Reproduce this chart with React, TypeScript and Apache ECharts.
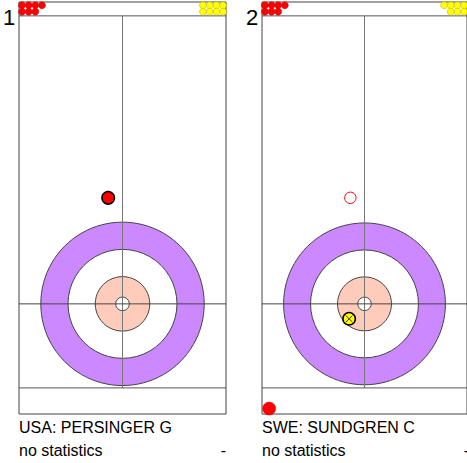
import React, { useEffect, useRef } from "react";
import * as echarts from "echarts";

// ---- data ----
const shotLabels = ["1", "2"];
const teamLabels = ["USA: PERSINGER G", "SWE: SUNDGREN C"];
const statLabels = ["no statistics", "no statistics"];
const statValues = ["-", "-"];
const redRemaining = [7, 7];
const yellowRemaining = [8, 7];

// house ring radii in feet (12ft, 8ft, 4ft, button)
const ringRadii = [6, 4, 2, 0.5];
const ringColors = ["#CC88FF", "#FFFFFF", "#FFCCBB", "#FFFFFF"];

// sheet coordinates in feet (x from centre line, y from tee line)
const X_MIN = -7.6;
const X_MAX = 7.6;
const Y_MIN = -8.1;
const Y_MAX = 22.2;
const hogLineY = 21.18;
const backLineY = -6.18;
const teeLineY = 0;

// stones in play per shot: [x, y, team, kind]
const stonesShot1: [number, number, string, string][] = [[-1.05, 7.8, "red", "stone"]];
const stonesShot2: [number, number, string, string][] = [
  [-1.05, 7.8, "red", "ghost"],
  [-1.14, -1.1, "yellow", "thrown"],
  [-7.07, -7.7, "red", "out"],
];
const stonesByShot = [stonesShot1, stonesShot2];

const STONE_R = 0.46;

export default function App() {
  const ref = useRef<HTMLDivElement>(null);
  useEffect(() => {
    const chart = echarts.init(ref.current!, null, { renderer: "svg" });
    const panelLeft = [19, 262];
    const panelWidth = 207;
    const font = '"Liberation Sans", Arial, sans-serif';

    const sheetLines: [number, number, number, number, string][] = [
      [0, backLineY, 0, hogLineY, "#777"],
      [X_MIN, teeLineY, X_MAX, teeLineY, "#444"],
      [X_MIN, backLineY, X_MAX, backLineY, "#555"],
      [X_MIN, hogLineY, X_MAX, hogLineY, "#555"],
      [X_MIN, Y_MAX, X_MAX, Y_MAX, "#444"],
      [X_MIN, Y_MIN, X_MAX, Y_MIN, "#444"],
      [X_MIN, Y_MIN, X_MIN, Y_MAX, "#444"],
      [X_MAX, Y_MIN, X_MAX, Y_MAX, "#444"],
    ];

    const dotRowsY = [21.96, 21.49];
    const dotSpacing = 0.49;
    const dotOffset = 0.22;
    const dotsFor = (n: number, side: "red" | "yellow") => {
      const out: number[][] = [];
      for (let i = 0; i < n; i++) {
        const row = Math.floor(i / 4);
        const col = i % 4;
        const x = side === "red" ? X_MIN + dotOffset + col * dotSpacing : X_MAX - dotOffset - col * dotSpacing;
        out.push([x, dotRowsY[row]]);
      }
      return out;
    };

    const grids: any[] = [];
    const xAxes: any[] = [];
    const yAxes: any[] = [];
    const series: any[] = [];
    const graphics: any[] = [];

    shotLabels.forEach((label, p) => {
      grids.push({ left: panelLeft[p], top: 2, width: panelWidth, height: 412 });
      xAxes.push({ type: "value", gridIndex: p, min: X_MIN, max: X_MAX, show: false });
      yAxes.push({ type: "value", gridIndex: p, min: Y_MIN, max: Y_MAX, show: false });

      series.push({
        type: "custom",
        xAxisIndex: p,
        yAxisIndex: p,
        clip: false,
        z: 1,
        data: ringRadii.map((r) => [0, 0, r]),
        renderItem: (params: any, api: any) => {
          const c = api.coord([0, 0]);
          const r = api.size([ringRadii[params.dataIndex], 0])[0];
          return {
            type: "circle",
            shape: { cx: c[0], cy: c[1], r },
            style: { fill: ringColors[params.dataIndex], stroke: "#444", lineWidth: 1 },
          };
        },
      });

      series.push({
        type: "custom",
        xAxisIndex: p,
        yAxisIndex: p,
        clip: false,
        z: 2,
        data: sheetLines.map((l) => [l[0], l[1], l[2], l[3]]),
        renderItem: (params: any, api: any) => {
          const l = sheetLines[params.dataIndex];
          const a = api.coord([l[0], l[1]]);
          const b = api.coord([l[2], l[3]]);
          return {
            type: "line",
            shape: { x1: a[0], y1: a[1], x2: b[0], y2: b[1] },
            style: { stroke: l[4], lineWidth: 1 },
          };
        },
      });

      series.push({
        type: "scatter",
        xAxisIndex: p,
        yAxisIndex: p,
        z: 3,
        symbol: "circle",
        symbolSize: 7,
        silent: true,
        itemStyle: { color: "#FF0000", borderColor: "#CC0000", borderWidth: 0.5, opacity: 1 },
        data: dotsFor(redRemaining[p], "red"),
      });
      series.push({
        type: "scatter",
        xAxisIndex: p,
        yAxisIndex: p,
        z: 3,
        symbol: "circle",
        symbolSize: 7,
        silent: true,
        itemStyle: { color: "#FFFF00", borderColor: "#B8A800", borderWidth: 0.5, opacity: 1 },
        data: dotsFor(yellowRemaining[p], "yellow"),
      });

      const stones = stonesByShot[p];
      series.push({
        type: "custom",
        xAxisIndex: p,
        yAxisIndex: p,
        clip: false,
        z: 4,
        data: stones.map((s) => [s[0], s[1]]),
        renderItem: (params: any, api: any) => {
          const s = stones[params.dataIndex];
          const c = api.coord([s[0], s[1]]);
          const r = api.size([STONE_R, 0])[0];
          const fill = s[2] === "red" ? "#FF0000" : "#FFFF00";
          if (s[3] === "ghost") {
            return {
              type: "circle",
              shape: { cx: c[0], cy: c[1], r: r - 0.5 },
              style: { fill: "none", stroke: "#FF0000", lineWidth: 1 },
            };
          }
          if (s[3] === "out") {
            return {
              type: "circle",
              shape: { cx: c[0], cy: c[1], r: r + 0.3 },
              style: { fill, stroke: "#E00000", lineWidth: 0.5 },
            };
          }
          const circle = {
            type: "circle",
            shape: { cx: c[0], cy: c[1], r },
            style: { fill, stroke: "#000", lineWidth: 1.5 },
          };
          if (s[3] === "thrown") {
            const d = r * 0.55;
            return {
              type: "group",
              children: [
                circle,
                { type: "line", shape: { x1: c[0] - d, y1: c[1] - d, x2: c[0] + d, y2: c[1] + d }, style: { stroke: "#333", lineWidth: 1 } },
                { type: "line", shape: { x1: c[0] - d, y1: c[1] + d, x2: c[0] + d, y2: c[1] - d }, style: { stroke: "#333", lineWidth: 1 } },
              ],
            };
          }
          return circle;
        },
      });

      graphics.push({
        type: "text",
        x: panelLeft[p] - 16,
        y: 17,
        style: { text: label, fontSize: 22, fontFamily: font, fill: "#000", align: "left", verticalAlign: "middle" },
      });
      graphics.push({
        type: "text",
        x: panelLeft[p],
        y: 427.5,
        style: { text: teamLabels[p], fontSize: 16, fontFamily: font, fill: "#000", align: "left", verticalAlign: "middle" },
      });
      graphics.push({
        type: "text",
        x: panelLeft[p],
        y: 450,
        style: { text: statLabels[p], fontSize: 16, fontFamily: font, fill: "#000", align: "left", verticalAlign: "middle" },
      });
      graphics.push({
        type: "text",
        x: panelLeft[p] + panelWidth,
        y: 450,
        style: { text: statValues[p], fontSize: 16, fontFamily: font, fill: "#000", align: "right", verticalAlign: "middle" },
      });
    });

    chart.setOption({
      animation: false,
      backgroundColor: "#FFFFFF",
      grid: grids,
      xAxis: xAxes,
      yAxis: yAxes,
      series,
      graphic: graphics,
    });
    return () => chart.dispose();
  }, []);
  return <div ref={ref} style={{ position: "absolute", left: 0, top: 0, width: 467, height: 463 }} />;
}
